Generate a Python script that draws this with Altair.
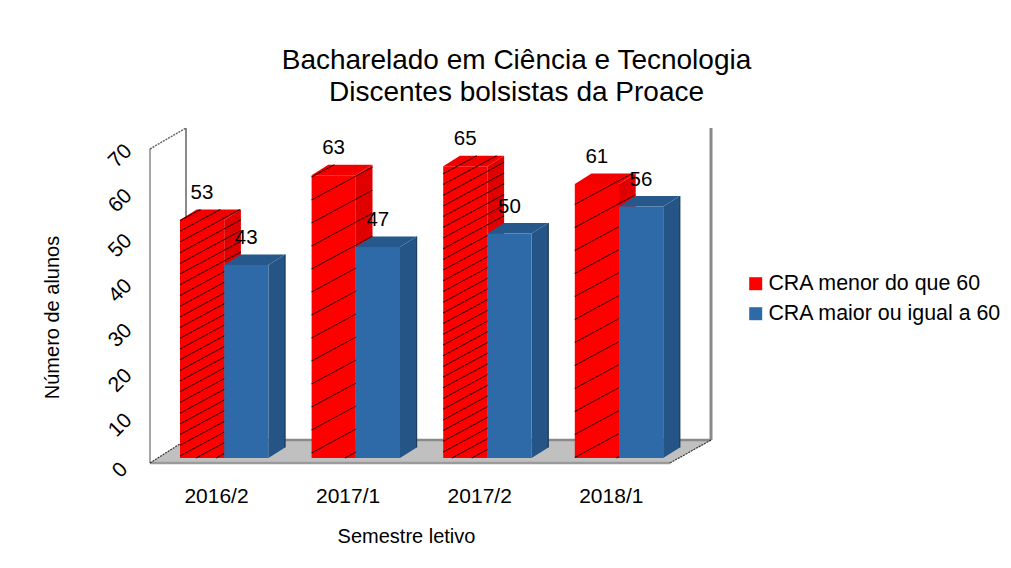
import json
import altair as alt
import pandas as pd

semesters = ["2016/2", "2017/1", "2017/2", "2018/1"]
low_cra = [53, 63, 65, 61]
high_cra = [43, 47, 50, 56]
series_names = ["CRA menor do que 60", "CRA maior ou igual a 60"]
y_ticks = [0, 10, 20, 30, 40, 50, 60, 70]
hatch_gap = [10.7, 23.0, 10.7, 23.0]
hatch_phase = [2.0, 5.0, 6.0, 0.5]

FONT = "Liberation Sans"
PX_X = 131.6   # px per group
PX_Y = 4.49    # px per student
BAR_W = 44.2 / PX_X
DEPTH_X = 16.7 / PX_X
DEPTH_Y = 10.5 / PX_Y
WALL_L = -30 / PX_X
WALL_DX = 36 / PX_X
FLOOR_R = 490 / PX_X
FLOOR_Y = -5 / PX_Y
BACK_Y = 18 / PX_Y
TOP_FRONT = 309 / PX_Y
TOP_BACK = 330 / PX_Y
WALL_R = 531 / PX_X

x_scale = alt.Scale(domain=[-172 / PX_X, 823 / PX_X], nice=False, zero=False)
y_scale = alt.Scale(domain=[-102 / PX_Y, 348 / PX_Y], nice=False, zero=False)
x_axis = alt.Axis(values=list(range(len(semesters))),
                  labelExpr=json.dumps(semesters) + "[datum.value]",
                  grid=False, domain=False, ticks=False, offset=-75, labelPadding=0,
                  labelOffset=36, labelFontSize=21, labelFont=FONT, labelColor="#000000",
                  labelOverlap=False, labelFlush=False,
                  titleFont=FONT, titleFontSize=20, titleFontWeight="normal", titleColor="#000000",
                  titleX=398, titleY=41)
y_axis = alt.Axis(values=y_ticks, grid=False, domain=False, ticks=False, offset=-112,
                  labelPadding=0, labelAngle=315, labelAlign="center", labelBaseline="middle",
                  labelOffset=12, labelFontSize=21, labelFont=FONT, labelColor="#000000",
                  labelOverlap=False, labelFlush=False,
                  titleFont=FONT, titleFontSize=20, titleFontWeight="normal", titleColor="#000000",
                  titleX=-58, titleY=207)
X = lambda f="x": alt.X(f"{f}:Q", scale=x_scale, axis=x_axis, title="Semestre letivo")
Y = lambda f="y": alt.Y(f"{f}:Q", scale=y_scale, axis=y_axis, title="Número de alunos")


def segs(rows):
    return pd.DataFrame(rows, columns=["x", "y", "x2", "y2"])


def rules(rows, **style):
    return alt.Chart(segs(rows)).mark_rule(**style).encode(
        x=X(), y=Y(), x2="x2:Q", y2="y2:Q")


def area(rows, color):
    df = pd.DataFrame(rows, columns=["id", "x", "y", "y2"])
    return alt.Chart(df).mark_area(color=color, interpolate="linear").encode(
        x=X(), y=Y(), y2="y2:Q", detail="id:N")


def side_rows(starts, vals):
    rows = []
    for i, (s, v) in enumerate(zip(starts, vals)):
        r = s + BAR_W
        rows += [(i, r, v, 0), (i, r + DEPTH_X, v + DEPTH_Y, DEPTH_Y)]
    return rows


def top_rows(starts, vals):
    rows = []
    for i, (s, v) in enumerate(zip(starts, vals)):
        rows += [(i, s, v, v), (i, s + DEPTH_X, v + DEPTH_Y, v),
                 (i, s + BAR_W, v + DEPTH_Y, v), (i, s + BAR_W + DEPTH_X, v + DEPTH_Y, v + DEPTH_Y)]
    return rows


def front(starts, vals, name, legend):
    df = pd.DataFrame({"x": starts, "x2": [s + BAR_W for s in starts], "y": vals,
                       "y2": [0] * len(vals), "serie": [name] * len(vals)})
    return alt.Chart(df).mark_bar().encode(
        x=X(), x2="x2:Q", y=Y(), y2="y2:Q",
        color=alt.Color("serie:N", scale=alt.Scale(domain=series_names, range=["#ff0000", "#2e6aa8"]),
                        legend=legend))


def hatch_rows():
    rows = []
    slope = 0.54
    W, D, DY = BAR_W * PX_X, DEPTH_X * PX_X, DEPTH_Y * PX_Y
    for g, v in enumerate(low_cra):
        V = v * PX_Y
        poly = [(0, 0), (W, 0), (W + D, DY), (W + D, V + DY), (D, V + DY), (0, V)]
        c = hatch_phase[g] - hatch_gap[g] * 6
        while c < V + DY:
            hits = []
            for (a, b), (e, f) in zip(poly, poly[1:] + poly[:1]):
                da, db = a * slope + c - b, e * slope + c - f
                if da == db or da * db > 0:
                    continue
                t = da / (da - db)
                hits.append(a + t * (e - a))
            if len(hits) >= 2:
                l, r = min(hits), max(hits)
                rows.append((g + l / PX_X, (c + slope * l) / PX_Y, g + r / PX_X, (c + slope * r) / PX_Y))
            c += hatch_gap[g]
    return rows


red_x = [float(i) for i in range(len(semesters))]
blue_x = [s + BAR_W for s in red_x]

floor = area([(0, WALL_L, FLOOR_Y, FLOOR_Y), (0, WALL_L + WALL_DX, BACK_Y, FLOOR_Y),
              (0, FLOOR_R, BACK_Y, FLOOR_Y), (0, WALL_R + 1 / PX_X, BACK_Y, BACK_Y)], "#c0c0c0")
walls = rules([(WALL_R, BACK_Y, WALL_R, TOP_BACK)], stroke="#8a8a8a", strokeWidth=3)
back_left = rules([(WALL_L + WALL_DX, BACK_Y, WALL_L + WALL_DX, TOP_BACK)], stroke="#8a8a8a", strokeWidth=2)
left = rules([(WALL_L, FLOOR_Y, WALL_L, TOP_FRONT)], stroke="#8a8a8a", strokeWidth=1.5)
back_line = rules([(WALL_L + WALL_DX, BACK_Y, WALL_R, BACK_Y)], stroke="#8a8a8a", strokeWidth=2.5)
front_line = rules([(WALL_L, FLOOR_Y, FLOOR_R, FLOOR_Y)], stroke="#9a9a9a", strokeWidth=2.5)
dots = rules([(WALL_L, FLOOR_Y, WALL_L + WALL_DX, BACK_Y),
              (FLOOR_R, FLOOR_Y, WALL_R, BACK_Y)], stroke="#333333", strokeWidth=1.2, strokeDash=[2, 1])
dots_top = rules([(WALL_L, TOP_FRONT, WALL_L + WALL_DX, TOP_BACK)], stroke="#666666", strokeWidth=1.5, strokeDash=[2, 1])

legend = alt.Legend(title=None, orient="none", legendX=737, legendY=163, symbolType="square",
                    symbolSize=169, symbolStrokeWidth=0, labelFont=FONT, labelFontSize=21.4,
                    labelColor="#000000", rowPadding=7, labelOffset=2, labelLimit=300)

hatch = rules(hatch_rows(), stroke="#4a0000", strokeWidth=1.1)
blue_edge = rules([(s + BAR_W + DEPTH_X, DEPTH_Y, s + BAR_W + DEPTH_X, v + DEPTH_Y)
                   for s, v in zip(blue_x, high_cra)], stroke="#12304f", strokeWidth=1)

labels = pd.DataFrame({
    "x": [s + 22 / PX_X for s in red_x + blue_x],
    "y": low_cra + high_cra,
    "t": [str(v) for v in low_cra + high_cra],
})
text = alt.Chart(labels).mark_text(font=FONT, fontSize=20.5, color="#000000", dy=-27).encode(
    x=X(), y=Y(), text="t:N")

chart = alt.layer(
    floor, back_left, walls, left, back_line, front_line, dots, dots_top,
    area(side_rows(red_x, low_cra), "#e00000"),
    area(top_rows(red_x, low_cra), "#f20000"),
    front(red_x, low_cra, series_names[0], legend),
    hatch,
    area(side_rows(blue_x, high_cra), "#255486"),
    area(top_rows(blue_x, high_cra), "#27588c"),
    blue_edge,
    front(blue_x, high_cra, series_names[1], legend),
    text,
).properties(
    width=995, height=450,
    padding={"left": 0, "top": 102, "right": 0, "bottom": 0},
    autosize=alt.AutoSizeParams(type="none"),
    background="#ffffff",
    title=alt.TitleParams(text=["Bacharelado em Ciência e Tecnologia", "Discentes bolsistas da Proace"],
                          font=FONT, fontSize=28, fontWeight="normal", color="#000000",
                          anchor="middle", dx=11, offset=3, lineHeight=32),
).configure_view(stroke=None)

chart.save("out.html", embed_options={"renderer": "svg", "actions": False})
